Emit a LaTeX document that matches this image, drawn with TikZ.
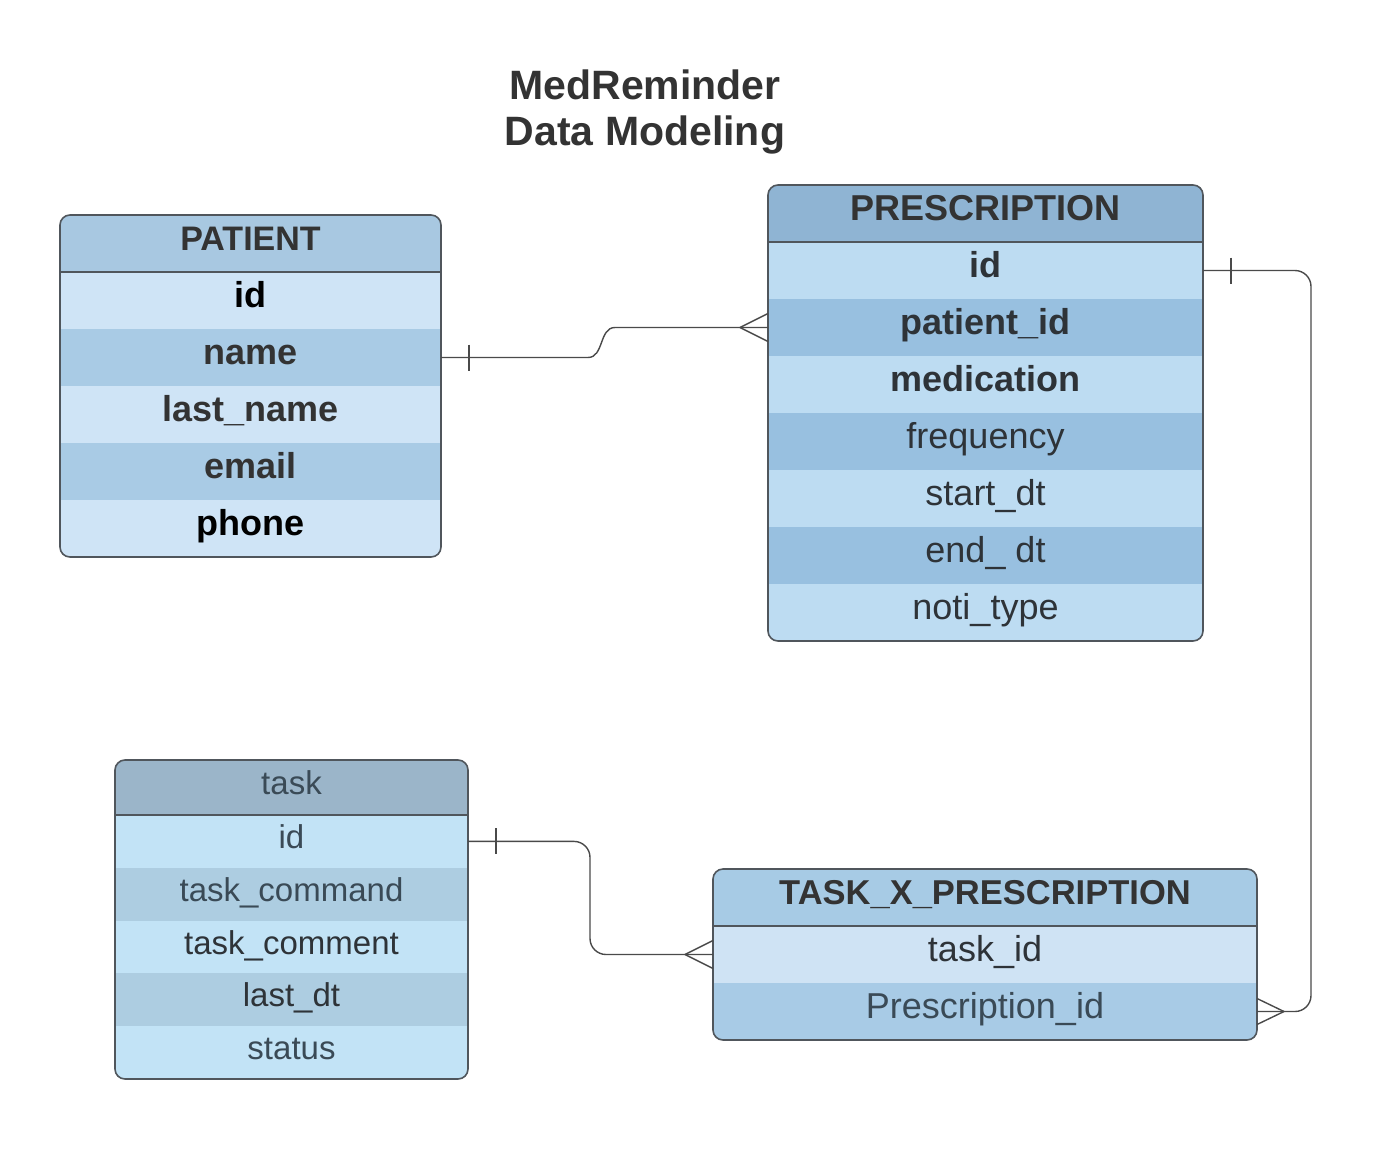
\documentclass[tikz,border=0pt]{standalone}
\usepackage{fontspec}
\setmainfont{Liberation Sans}

\definecolor{titlegray}{HTML}{333333}
\definecolor{txtgray}{HTML}{2E3338}
\definecolor{framegray}{HTML}{50565C}
\definecolor{linkgray}{HTML}{4A4A4A}
% patient table
\definecolor{pathead}{HTML}{A8C8E1}
\definecolor{patlight}{HTML}{CFE4F6}
\definecolor{patdark}{HTML}{A9CBE5}
% prescription table
\definecolor{prehead}{HTML}{8FB4D3}
\definecolor{prelight}{HTML}{BDDCF2}
\definecolor{predark}{HTML}{98C0E0}
% task table
\definecolor{taskhead}{HTML}{9BB5C9}
\definecolor{tasklight}{HTML}{C2E3F6}
\definecolor{taskdark}{HTML}{ADCDE1}
\definecolor{tasktxt}{HTML}{3A4A56}
% task x prescription table
\definecolor{txhead}{HTML}{A7CBE5}
\definecolor{txlight}{HTML}{CFE3F4}
\definecolor{txdark}{HTML}{A8CBE6}

\begin{document}
\begin{tikzpicture}[x=1pt,y=-1pt,
    row/.style={inner sep=0pt, outer sep=0pt, text=txtgray, text height=26pt, text depth=12pt},
    frame/.style={draw=framegray, line width=1.6pt, rounded corners=10pt},
    link/.style={draw=linkgray, line width=1.4pt}]
    \useasboundingbox (0,0) rectangle (1384,1162);

    % Title
    \node[font=\bfseries\fontsize{41}{46}\selectfont, text=titlegray, align=center] (title) at (645,112) {MedReminder\\Data Modeling};

    % PATIENT table
    \begin{scope}
        \clip[rounded corners=10pt] (60,215) rectangle (441,557);
        \node[row, fill=pathead, minimum width=381pt, minimum height=57pt, font=\bfseries\fontsize{34}{40}\selectfont, text=titlegray] (phead) at (250.5,243.5) {PATIENT};
        \foreach \t/\c/\k [count=\i] in {id/patlight/black, name/patdark/titlegray, last\_name/patlight/titlegray, email/patdark/titlegray, phone/patlight/black}
            \node[row, fill=\c, text=\k, minimum width=381pt, minimum height=57pt, font=\bfseries\fontsize{36}{40}\selectfont] (p\i) at (250.5,243.5+57*\i) {\t};
    \end{scope}
    \draw[frame] (60,215) rectangle (441,557);
    \draw[framegray, line width=1.6pt] (phead.south west) -- (phead.south east);

    % PRESCRIPTION table
    \begin{scope}
        \clip[rounded corners=10pt] (768,185) rectangle (1203,641);
        \node[row, fill=prehead, minimum width=435pt, minimum height=57pt, font=\bfseries\fontsize{36}{40}\selectfont, text=titlegray] (prhead) at (985.5,213.5) {PRESCRIPTION};
        \foreach \t/\c/\f [count=\i] in {id/prelight/\bfseries, patient\_id/predark/\bfseries, medication/prelight/\bfseries, frequency/predark/, start\_dt/prelight/, end\_ dt/predark/, noti\_type/prelight/}
            \node[row, fill=\c, minimum width=435pt, minimum height=57pt, font=\f\fontsize{36}{40}\selectfont] (pr\i) at (985.5,213.5+57*\i) {\t};
    \end{scope}
    \draw[frame] (768,185) rectangle (1203,641);
    \draw[framegray, line width=1.6pt] (prhead.south west) -- (prhead.south east);

    % task table
    \begin{scope}
        \clip[rounded corners=10pt] (115,760) rectangle (468,1079);
        \node[row, fill=taskhead, minimum width=353pt, minimum height=55pt, font=\fontsize{33}{38}\selectfont, text=tasktxt] (thead) at (291.5,787.5) {task};
        \foreach \t/\c/\k [count=\i] in {id/tasklight/tasktxt, task\_command/taskdark/tasktxt, task\_comment/tasklight/txtgray, last\_dt/taskdark/txtgray, status/tasklight/tasktxt}
            \node[row, fill=\c, text=\k, minimum width=353pt, minimum height=52.8pt, font=\fontsize{33}{38}\selectfont] (t\i) at (291.5,788.6+52.8*\i) {\t};
    \end{scope}
    \draw[frame] (115,760) rectangle (468,1079);
    \draw[framegray, line width=1.6pt] (thead.south west) -- (thead.south east);

    % TASK_X_PRESCRIPTION table
    \begin{scope}
        \clip[rounded corners=10pt] (713,869) rectangle (1257,1040);
        \node[row, fill=txhead, minimum width=544pt, minimum height=57pt, font=\bfseries\fontsize{34.5}{40}\selectfont, text=titlegray] (txhead) at (985,897.5) {TASK\_X\_PRESCRIPTION};
        \node[row, fill=txlight, minimum width=544pt, minimum height=57pt, font=\fontsize{36}{40}\selectfont] (tx1) at (985,954.5) {task\_id};
        \node[row, fill=txdark, minimum width=544pt, minimum height=57pt, font=\fontsize{36}{40}\selectfont, text=tasktxt] (tx2) at (985,1011.5) {Prescription\_id};
    \end{scope}
    \draw[frame] (713,869) rectangle (1257,1040);
    \draw[framegray, line width=1.6pt] (txhead.south west) -- (txhead.south east);

    % Relations
    % patient (one) -- prescription (many)
    \draw[link] (p2.east) -- (588,357.5) .. controls (604,357.5) and (599,327.5) .. (615,327.5) -- (pr2.west);
    \draw[link] ([xshift=28pt]p2.east) ++(0,-13) -- ++(0,26);
    \draw[link] ([xshift=-28pt]pr2.west) -- ([yshift=14pt]pr2.west);
    \draw[link] ([xshift=-28pt]pr2.west) -- ([yshift=-14pt]pr2.west);

    % prescription (one) -- task_x_prescription (many)
    \draw[link, rounded corners=16pt] (pr1.east) -- ++(108,0) |- (tx2.east);
    \draw[link] ([xshift=28pt]pr1.east) ++(0,-13) -- ++(0,26);
    \draw[link] ([xshift=27pt]tx2.east) -- ([yshift=13pt]tx2.east);
    \draw[link] ([xshift=27pt]tx2.east) -- ([yshift=-13pt]tx2.east);

    % task (one) -- task_x_prescription (many)
    \draw[link, rounded corners=16pt] (t1.east) -- ++(122,0) |- (tx1.west);
    \draw[link] ([xshift=28pt]t1.east) ++(0,-13) -- ++(0,26);
    \draw[link] ([xshift=-28pt]tx1.west) -- ([yshift=14pt]tx1.west);
    \draw[link] ([xshift=-28pt]tx1.west) -- ([yshift=-14pt]tx1.west);

\end{tikzpicture}
\end{document}
